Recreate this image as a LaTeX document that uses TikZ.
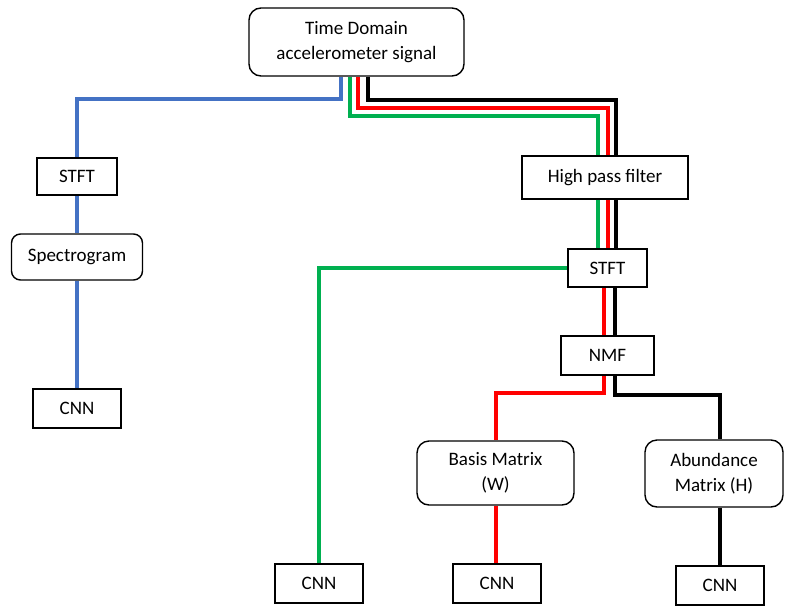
\documentclass[tikz,border=0pt]{standalone}
\usepackage{fontspec}
\setmainfont{Carlito}
\usetikzlibrary{backgrounds}
\definecolor{cblue}{HTML}{4472C4}
\definecolor{cgreen}{HTML}{00B050}
\definecolor{cred}{HTML}{FF0000}
\tikzset{
  base/.style={draw=black, line width=1.4pt, fill=white, inner sep=0pt, align=center,
    font=\fontsize{19}{25}\selectfont},
  sqbox/.style={base},
  rbox/.style={base, rounded corners=12pt},
  conn/.style={line width=4pt, line join=miter, line cap=butt},
}
\begin{document}
\begin{tikzpicture}[x=1pt,y=-1pt]
\useasboundingbox (0,0) rectangle (786,605);
\node[rbox, minimum width=215pt, minimum height=68pt] (top) at (356.5,42) {Time Domain\\accelerometer signal};
\node[sqbox, minimum width=80pt, minimum height=37pt] (stftL) at (77,176.5) {STFT};
\node[rbox, minimum width=131pt, minimum height=46pt, rounded corners=9pt] (spec) at (77,257) {Spectrogram};
\node[sqbox, minimum width=88pt, minimum height=39pt] (cnnL) at (77,408.5) {CNN};
\node[sqbox, minimum width=166pt, minimum height=43pt] (hpf) at (605,177.5) {High pass filter};
\node[sqbox, minimum width=79pt, minimum height=38pt] (stftR) at (607.5,268) {STFT};
\node[sqbox, minimum width=93pt, minimum height=39pt] (nmf) at (607.5,355.5) {NMF};
\node[rbox, minimum width=157pt, minimum height=64pt] (basis) at (495.5,473) {Basis Matrix\\(W)};
\node[rbox, minimum width=138pt, minimum height=67pt] (abund) at (714,473.5) {Abundance\\Matrix (H)};
\node[sqbox, minimum width=88pt, minimum height=39pt] (cnnG) at (319,583.5) {CNN};
\node[sqbox, minimum width=88pt, minimum height=39pt] (cnnM) at (497,583.5) {CNN};
\node[sqbox, minimum width=88pt, minimum height=39pt] (cnnR) at (720,585.5) {CNN};
\begin{pgfonlayer}{background}
\draw[conn, cblue] ([xshift=-16]top.south) -- ++(0,22) -| (stftL.north);
\draw[conn, cblue] (stftL.south) -- (spec.north);
\draw[conn, cblue] (spec.south) -- (cnnL.north);
\draw[conn, cgreen] ([xshift=-7]top.south) -- ++(0,39) -| ([xshift=-10]stftR.north);
\draw[conn, cred] ([xshift=1.5]top.south) -- ++(0,31) -| (stftR.north);
\draw[conn, black] ([xshift=11.5]top.south) -- ++(0,23) -| ([xshift=8]stftR.north);
\draw[conn, cred] ([xshift=-4]stftR.south) -- ([xshift=-4]nmf.north);
\draw[conn, black] ([xshift=7]stftR.south) -- ([xshift=7]nmf.north);
\draw[conn, cred] ([xshift=-4]nmf.south) -- ++(0,17) -| (basis.north);
\draw[conn, black] ([xshift=7]nmf.south) -- ++(0,19) -| ([xshift=6]abund.north);
\draw[conn, cgreen] (stftR.west) -| (cnnG.north);
\draw[conn, cred] (basis.south) -- (basis.south |- cnnM.north);
\draw[conn, black] ([xshift=6]abund.south) -- (cnnR.north);
\end{pgfonlayer}
\end{tikzpicture}
\end{document}
